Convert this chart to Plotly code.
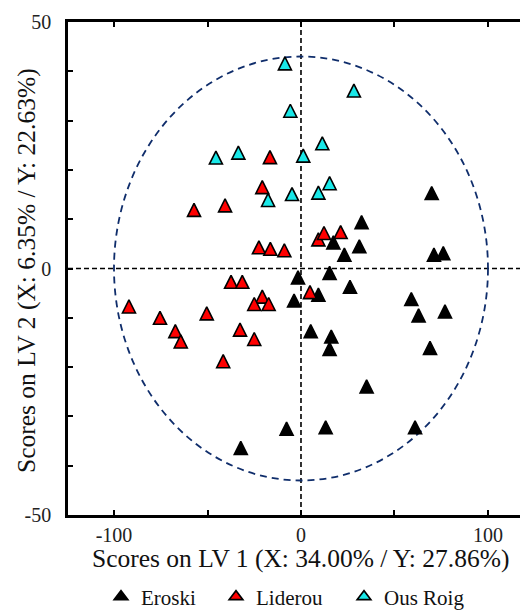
import plotly.graph_objects as go

# ---- data ----
eroski_x = [69.9, 32.4, 17.3, 31.2, 23.2, 71.1, 76.1, 15.3, -1.6, -3.7, 9.3, 26.2,
            59.0, 62.9, 77.0, 5.2, 16.2, 15.3, 69.0, 35.1, 13.2, 61.0, -7.7, -32.2]
eroski_y = [15.3, 9.4, 5.3, 4.5, 2.8, 2.8, 3.1, -0.9, -1.8, -6.5, -5.3, -3.7,
            -6.2, -9.5, -8.7, -12.7, -13.8, -16.3, -16.1, -23.9, -32.2, -32.2, -32.5, -36.4]

liderou_x = [-16.6, -20.7, -57.2, -40.6, -22.5, -16.4, -8.9, 9.3, 12.3, 21.2,
             -37.4, -31.4, -92.0, -75.4, -50.4, -67.2, -64.3, -20.7, -25.0, -17.3,
             -32.6, -25.0, -41.6, 4.8]
liderou_y = [22.6, 16.5, 11.9, 12.8, 4.3, 4.0, 3.7, 5.9, 7.2, 7.4,
             -2.7, -2.7, -7.7, -10.0, -9.1, -12.7, -14.8, -5.7, -7.2, -7.2,
             -12.4, -14.3, -18.8, -4.8]

ousroig_x = [-8.6, -5.7, -45.5, -33.5, 1.2, -4.8, -17.6, 28.3, 11.4, 15.3, 9.3]
ousroig_y = [41.6, 32.0, 22.5, 23.5, 22.9, 15.1, 13.9, 36.1, 25.4, 17.3, 15.4]

series_names = ["Eroski", "Liderou", "Ous Roig"]
series_colors = ["#000000", "#ff0000", "#19e8e8"]
legend_widths = [70, 83, None]

x_tickvals = [-100, -50, 0, 50, 100]
x_ticktext = ["-100", "", "0", "", "100"]
y_tickvals = [-50, -40, -30, -20, -10, 0, 10, 20, 30, 40, 50]
y_ticktext = ["-50", "", "", "", "", "0", "", "", "", "", "50"]

x_title = "Scores on LV 1 (X: 34.00% / Y: 27.86%)"
y_title = "Scores on LV 2 (X: 6.35% / Y: 22.63%)"

# confidence ellipse half-axes
ell_a = 100
ell_b = 43

FONT = "Liberation Serif, Times New Roman, serif"
MSIZE = 13

# page body has an 8px default margin -> compensate in the figure margins
OFF = 8
PL, PT, PW, PH = 68 - OFF, 22 - OFF, 460, 493
W, H = 528, 610

fig = go.Figure()
for name, xs, ys, col, lw in zip(series_names,
                                 [eroski_x, liderou_x, ousroig_x],
                                 [eroski_y, liderou_y, ousroig_y],
                                 series_colors, legend_widths):
    fig.add_trace(go.Scatter(
        x=xs, y=ys, mode="markers", name=name, legendgroup=name, showlegend=False,
        marker=dict(symbol="arrow-down", angle=180, standoff=MSIZE / 2,
                    size=MSIZE, color=col,
                    line=dict(color="black", width=1.6)),
    ))
    leg = dict(x=[None], y=[None], mode="markers", name=name, legendgroup=name,
               showlegend=True,
               marker=dict(symbol="triangle-up", size=12, color=col,
                           line=dict(color="black", width=1.6)))
    if lw:
        leg["legendwidth"] = lw
    fig.add_trace(go.Scatter(**leg))

# crosshair and ellipse
fig.add_shape(type="line", xref="x", yref="paper", x0=0, x1=0, y0=0, y1=1,
              line=dict(color="black", width=1.6, dash="5px,3px"), layer="below")
fig.add_shape(type="line", xref="paper", yref="y", x0=0, x1=1, y0=0, y1=0,
              line=dict(color="black", width=1.6, dash="5px,3px"), layer="below")
fig.add_shape(type="circle", xref="x", yref="y", x0=-ell_a, x1=ell_a, y0=-ell_b, y1=ell_b,
              line=dict(color="#0f2d6b", width=1.8, dash="7px,5px"), layer="below")

fig.update_xaxes(range=[-124.6, 121.4], tickvals=x_tickvals, ticktext=x_ticktext,
                 showgrid=False, zeroline=False, showline=True, linecolor="black",
                 linewidth=2.5, mirror="ticks", ticks="inside", ticklen=5, tickwidth=2,
                 tickcolor="black", tickfont=dict(family=FONT, size=20, color="#222"),
                 ticklabelstandoff=0, automargin=False)
fig.update_yaxes(range=[-50, 50], tickvals=y_tickvals, ticktext=y_ticktext,
                 showgrid=False, zeroline=False, showline=True, linecolor="black",
                 linewidth=2.5, mirror=False, ticks="inside", ticklen=5, tickwidth=2,
                 tickcolor="black", tickfont=dict(family=FONT, size=20, color="#222"),
                 ticklabelstandoff=10, automargin=False)

fig.add_annotation(text=x_title, xref="x", yref="paper", x=0, y=(515 - 558) / PH,
                   xanchor="center", yanchor="middle", showarrow=False,
                   font=dict(family=FONT, size=25.5, color="#111"))
fig.add_annotation(text=y_title, xref="paper", yref="paper", x=(26 - 68) / PW,
                   y=(515 - 271) / PH, xanchor="center", yanchor="middle",
                   showarrow=False, textangle=-90,
                   font=dict(family=FONT, size=25.5, color="#111"))

fig.update_layout(
    width=W, height=H,
    margin=dict(l=PL, r=W - PL - PW, t=PT, b=H - PT - PH, autoexpand=False),
    paper_bgcolor="white", plot_bgcolor="white",
    showlegend=True,
    legend=dict(orientation="h", x=(101 - 68) / PW, xanchor="left",
                y=(515 - 597) / PH, yanchor="middle",
                font=dict(family=FONT, size=21, color="#111"),
                bgcolor="rgba(0,0,0,0)"),
)

fig.write_html("out.html")
